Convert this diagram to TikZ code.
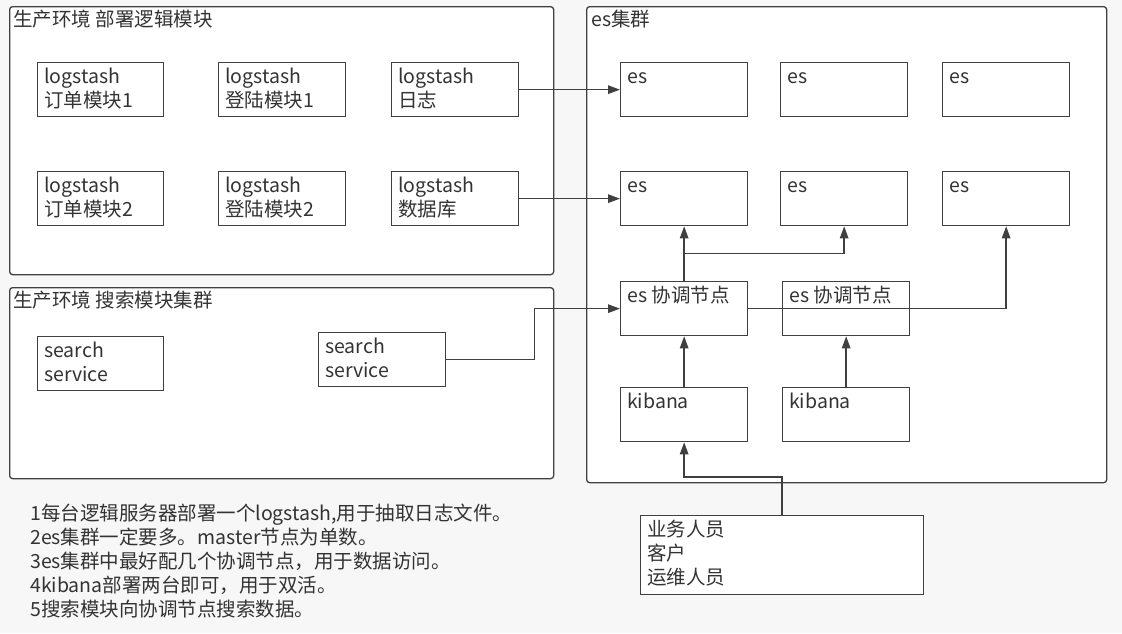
\documentclass[tikz,border=0pt]{standalone}
\usepackage{fontspec}
\setmainfont{Noto Sans CJK SC}
\usetikzlibrary{arrows.meta,calc}
\definecolor{ln}{HTML}{404040}
\definecolor{tx}{HTML}{333333}
\definecolor{bg}{HTML}{F7F7F7}
\tikzset{
  frame/.style={draw=ln, line width=1.3pt, fill=white, rounded corners=3pt, rectangle, inner sep=0pt, anchor=north west},
  box/.style={draw=ln, line width=1.3pt, fill=white, rectangle, inner sep=0pt, anchor=north west},
  conn/.style={draw=ln, line width=1.4pt, -{Triangle[length=12pt,width=8.5pt]}},
  txt/.style={text=tx, align=left, inner sep=0pt, anchor=north west},
}
\newcommand\bx[7][box]{%
  \node[#1, minimum width=#5pt, minimum height=#6pt] (#2) at (#3,#4) {};
  \node[txt] (#2t) at ([xshift=7pt,yshift=-5pt]#2.north west) {\vphantom{l生}#7};}
\begin{document}
\begin{tikzpicture}[x=1pt,y=-1pt, font=\fontsize{19.5}{24}\selectfont]
\fill[bg] (0,0) rectangle (1122,633);
\useasboundingbox (0,0) rectangle (1122,633);
% frames
\node[frame, minimum width=544pt, minimum height=268pt] (f1) at (9,6) {};
\node[txt] (f1t) at (13,9.5) {生产环境 部署逻辑模块};
\node[frame, minimum width=544pt, minimum height=191pt] (f2) at (9,287) {};
\node[txt] (f2t) at (13,290.5) {生产环境 搜索模块集群};
\node[frame, minimum width=520pt, minimum height=476pt] (f3) at (586,6) {};
\node[txt] (f3t) at (591,9.5) {\vphantom{生}es集群};
% logstash
\bx{l1}{37}{62}{126}{54}{logstash\\订单模块1}
\bx{l2}{218}{62}{127}{54}{logstash\\登陆模块1}
\bx{l3}{391}{62}{127}{54}{logstash\\日志}
\bx{l4}{37}{171}{126}{54}{logstash\\订单模块2}
\bx{l5}{218}{171}{127}{54}{logstash\\登陆模块2}
\bx{l6}{391}{171}{127}{54}{logstash\\数据库}
% search
\bx{s1}{37}{336}{126}{54}{search\\service}
\bx{s2}{318}{332}{127}{54}{search\\service}
% es
\bx{e1}{620}{62}{127}{54}{es}
\bx{e2}{780}{62}{127}{54}{es}
\bx{e3}{942}{62}{127}{54}{es}
\bx{e4}{620}{171}{127}{54}{es}
\bx{e5}{780}{171}{127}{54}{es}
\bx{e6}{942}{171}{127}{54}{es}
\bx{c1}{620}{281}{127}{54}{es 协调节点}
\bx{c2}{782}{281}{127}{54}{es 协调节点}
\bx{k1}{620}{387}{127}{54}{kibana}
\bx{k2}{782}{387}{127}{54}{kibana}
\bx{u}{640}{515}{283}{79}{业务人员\\客户\\运维人员}
% notes
\node[txt] (notes) at (30,504) {1每台逻辑服务器部署一个logstash,用于抽取日志文件。\\2es集群一定要多。master节点为单数。\\3es集群中最好配几个协调节点，用于数据访问。\\4kibana部署两台即可，用于双活。\\5搜索模块向协调节点搜索数据。};
% connectors
\draw[conn] (l3.east) -- (e1.west);
\draw[conn] (l6.east) -- (e4.west);
\draw[conn] (s2.east) -- ++(88,0) |- (c1.west);
\draw[conn] (c1.north) -- (e4.south);
\coordinate (j1) at ($(c1.north)!0.5!(e4.south)$);
\draw[conn] (j1) -| (e5.south);
\draw[conn] (c1.east) -| (e6.south);
\draw[conn] (k1.north) -- (c1.south);
\draw[conn] (k2.north) -- (c2.south);
\draw[conn] (u.north) -- ++(0,-38) -| (k1.south);
\end{tikzpicture}
\end{document}
